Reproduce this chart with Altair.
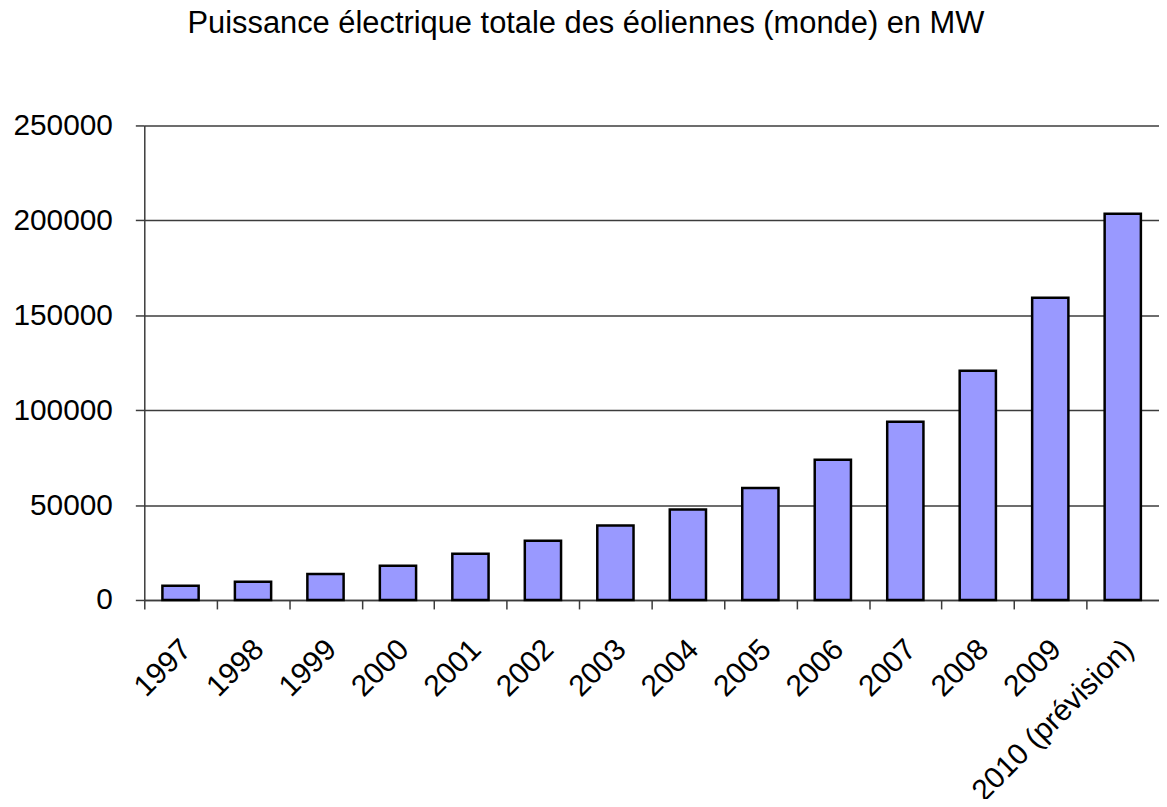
import altair as alt
import pandas as pd

years = ["1997", "1998", "1999", "2000", "2001", "2002", "2003", "2004",
         "2005", "2006", "2007", "2008", "2009", "2010 (prévision)"]
mw = [7480, 9660, 13700, 18040, 24320, 31160, 39290, 47690,
      59000, 73900, 93850, 120790, 159210, 203500]
y_ticks = [0, 50000, 100000, 150000, 200000, 250000]
title_text = "Puissance électrique totale des éoliennes (monde) en MW"

df = pd.DataFrame({"year": years, "mw": mw})

W, H = 1020, 477
step = W / len(years)
FONT = "Liberation Sans"
AX = "#3c3c3c"

chart = alt.Chart(df).mark_bar(
    color="#9999FF", stroke="black", strokeWidth=2.5
).encode(
    x=alt.X("year:N", sort=years, title=None,
            scale=alt.Scale(paddingInner=0.5, paddingOuter=0.25),
            axis=alt.Axis(labelAngle=-45, labelAlign="right", labelBaseline="top",
                          labelFontSize=30, labelFont=FONT, labelColor="black",
                          labelPadding=25, labelLimit=400, labelOverlap=False,
                          tickOffset=-step / 2, labelOffset=step / 2 - 5,
                          tickSize=9, tickColor=AX, tickWidth=1.5,
                          domainColor=AX, domainWidth=1.5, grid=False)),
    y=alt.Y("mw:Q", title=None,
            scale=alt.Scale(domain=[0, 250000], nice=False),
            axis=alt.Axis(values=y_ticks, format="d", grid=True,
                          gridColor=AX, gridWidth=1.5,
                          tickSize=9, tickColor=AX, tickWidth=1.5,
                          domainColor=AX, domainWidth=1.5,
                          labelPadding=23, labelFontSize=30, labelFont=FONT,
                          labelColor="black"))
).properties(
    width=W, height=H,
    title=alt.TitleParams(text=title_text, fontSize=31, font=FONT,
                          fontWeight="normal", color="black", offset=47,
                          anchor="middle", frame="bounds", baseline="alphabetic"),
    autosize=alt.AutoSizeParams(type="none"),
    padding={"left": 137, "top": 116, "right": 0, "bottom": 198},
).configure_view(stroke=None)

chart.save("out.html", embed_options={"renderer": "svg", "actions": False})
